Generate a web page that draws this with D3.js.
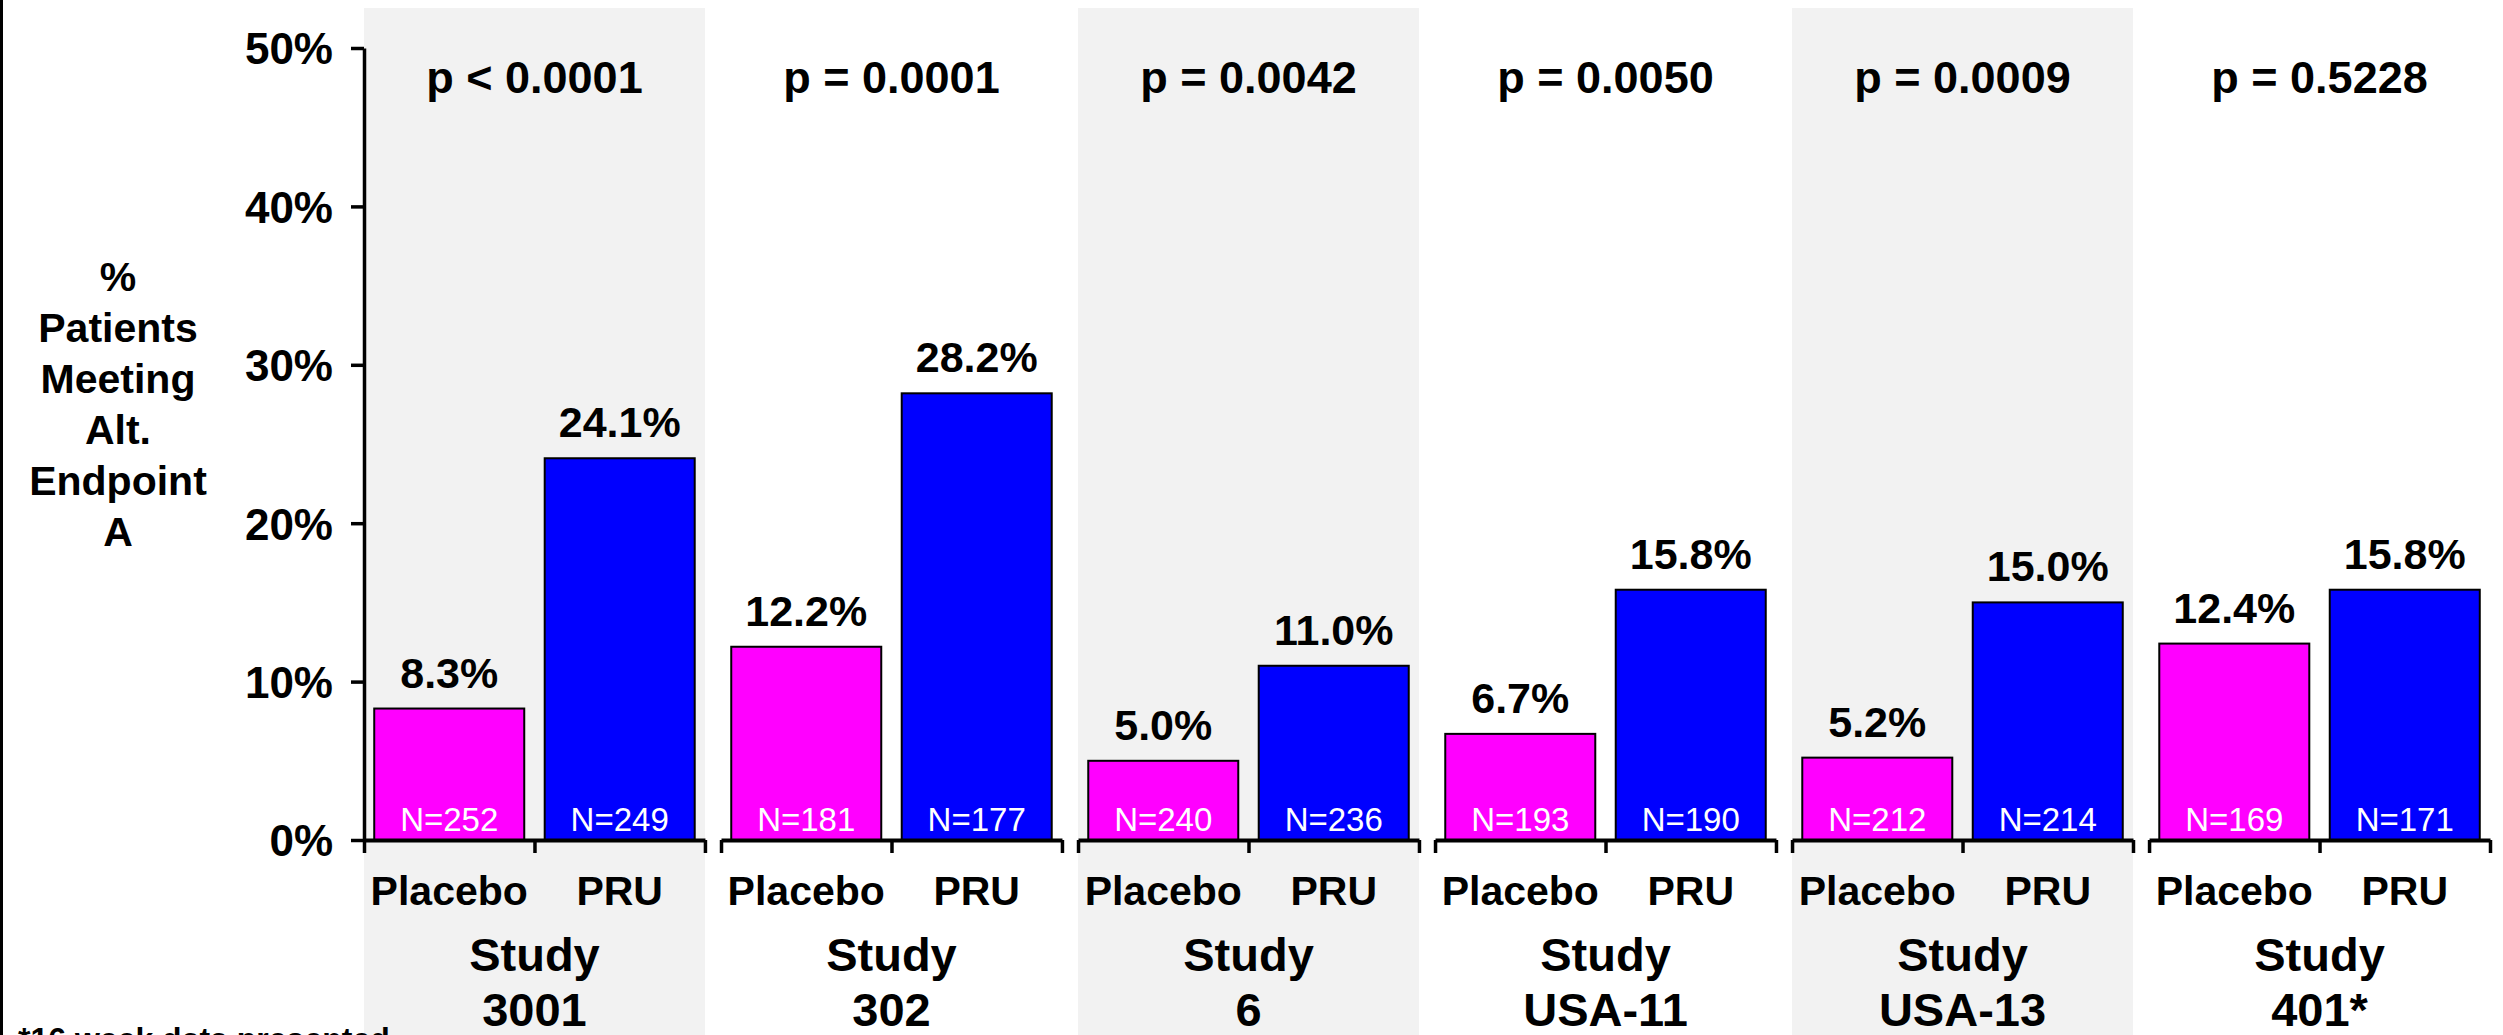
<!DOCTYPE html>
<html>
<head>
<meta charset="utf-8">
<script src="https://cdn.jsdelivr.net/npm/d3@7"></script>
<style>
  html, body { margin: 0; padding: 0; background: #fff; }
  svg { display: block; font-family: "Liberation Sans", Arial, Helvetica, sans-serif; }
</style>
</head>
<body>
<svg id="chart" width="2503" height="1035"></svg>
<script>
// Study groups and arms
const studies = ["3001", "302", "6", "USA-11", "USA-13", "401*"];
const arms = ["Placebo", "PRU"];

// % of patients meeting alternate endpoint A
const placeboPct = [8.3, 12.2, 5.0, 6.7, 5.2, 12.4];
const pruPct = [24.1, 28.2, 11.0, 15.8, 15.0, 15.8];

// Sample sizes
const placeboN = [252, 181, 240, 193, 212, 169];
const pruN = [249, 177, 236, 190, 214, 171];

// p-values per study
const pLabels = ["p < 0.0001", "p = 0.0001", "p = 0.0042", "p = 0.0050", "p = 0.0009", "p = 0.5228"];

// Y axis ticks (percent)
const yTicks = [0, 10, 20, 30, 40, 50];

const yTitleLines = ["%", "Patients", "Meeting", "Alt.", "Endpoint", "A"];
const footnote = "*16 week data presented";

const armColors = { Placebo: "#ff00ff", PRU: "#0000ff" };

const svg = d3.select("#chart");
const W = 2503, H = 1035;

const plotLeft = 364, plotRight = 2490;
const y = d3.scaleLinear().domain([0, 50]).range([840, 48]);

const x0 = d3.scaleBand().domain(studies).range([plotLeft, plotRight])
  .paddingInner(0.045).paddingOuter(0);
const x1 = d3.scaleBand().domain(arms).range([0, x0.bandwidth()])
  .paddingInner(0.12).paddingOuter(0.06);

const rows = studies.map((s, i) => ({
  study: s,
  p: pLabels[i],
  values: [
    { arm: "Placebo", v: placeboPct[i], n: placeboN[i] },
    { arm: "PRU", v: pruPct[i], n: pruN[i] }
  ]
}));

// Alternating shaded bands behind every other study
svg.append("g").selectAll("rect")
  .data(rows.filter((d, i) => i % 2 === 0))
  .join("rect")
  .attr("x", d => x0(d.study))
  .attr("y", 8)
  .attr("width", x0.bandwidth())
  .attr("height", H - 8)
  .attr("fill", "#f2f2f2");

// Left frame edge
svg.append("line")
  .attr("x1", 1.5).attr("x2", 1.5).attr("y1", 0).attr("y2", H)
  .attr("stroke", "#000").attr("stroke-width", 3);

// Y axis
const yAxis = svg.append("g")
  .attr("transform", `translate(${plotLeft},0)`)
  .call(d3.axisLeft(y).tickValues(yTicks).tickFormat(d => d + "%")
    .tickSize(13).tickSizeOuter(0).tickPadding(18));
yAxis.select(".domain").attr("stroke", "#000").attr("stroke-width", 3.5);
yAxis.selectAll(".tick line").attr("stroke", "#000").attr("stroke-width", 3.5);
yAxis.selectAll(".tick text")
  .attr("fill", "#000")
  .attr("font-size", 44)
  .attr("font-weight", "bold")
  .attr("font-family", "'Liberation Sans', Arial, sans-serif")
  .attr("dy", "0.36em");

// Y axis title
svg.append("text")
  .attr("text-anchor", "middle")
  .attr("font-size", 41)
  .attr("font-weight", "bold")
  .selectAll("tspan")
  .data(yTitleLines)
  .join("tspan")
  .attr("x", 118)
  .attr("y", (d, i) => 291 + i * 51)
  .text(d => d);

// Groups
const groups = svg.append("g").selectAll("g")
  .data(rows)
  .join("g")
  .attr("transform", d => `translate(${x0(d.study)},0)`);

// Bars
groups.selectAll("rect.bar")
  .data(d => d.values)
  .join("rect")
  .attr("class", "bar")
  .attr("x", d => x1(d.arm))
  .attr("width", x1.bandwidth())
  .attr("y", d => y(d.v))
  .attr("height", d => y(0) - y(d.v))
  .attr("fill", d => armColors[d.arm])
  .attr("stroke", "#000")
  .attr("stroke-width", 2);

// Value labels
groups.selectAll("text.val")
  .data(d => d.values)
  .join("text")
  .attr("class", "val")
  .attr("x", d => x1(d.arm) + x1.bandwidth() / 2)
  .attr("y", d => y(d.v) - 21)
  .attr("text-anchor", "middle")
  .attr("font-size", 43)
  .attr("font-weight", "bold")
  .text(d => d.v.toFixed(1) + "%");

// N labels inside bars
groups.selectAll("text.n")
  .data(d => d.values)
  .join("text")
  .attr("class", "n")
  .attr("x", d => x1(d.arm) + x1.bandwidth() / 2)
  .attr("y", 831)
  .attr("text-anchor", "middle")
  .attr("font-size", 33)
  .attr("fill", "#fff")
  .text(d => "N=" + d.n);

// X axis segment per study with edge and middle ticks
const seg = d3.scaleLinear().domain([0, 2]).range([0, x0.bandwidth()]);
groups.each(function () {
  const ax = d3.select(this).append("g")
    .attr("transform", `translate(0,${y(0)})`)
    .call(d3.axisBottom(seg).tickValues([0, 1, 2]).tickFormat("")
      .tickSize(13).tickSizeOuter(0));
  ax.select(".domain").attr("stroke", "#000").attr("stroke-width", 4);
  ax.selectAll(".tick line").attr("stroke", "#000").attr("stroke-width", 3.5);
});

// Arm labels
groups.selectAll("text.arm")
  .data(arms)
  .join("text")
  .attr("class", "arm")
  .attr("x", d => x1(d) + x1.bandwidth() / 2)
  .attr("y", 905)
  .attr("text-anchor", "middle")
  .attr("font-size", 41)
  .attr("font-weight", "bold")
  .text(d => d);

// Study labels
groups.append("text")
  .attr("text-anchor", "middle")
  .attr("font-size", 47)
  .attr("font-weight", "bold")
  .selectAll("tspan")
  .data(d => ["Study", d.study])
  .join("tspan")
  .attr("x", x0.bandwidth() / 2)
  .attr("y", (d, i) => 971 + i * 55)
  .text(d => d);

// p-values
groups.append("text")
  .attr("x", x0.bandwidth() / 2)
  .attr("y", 93)
  .attr("text-anchor", "middle")
  .attr("font-size", 45)
  .attr("font-weight", "bold")
  .text(d => d.p);

// Footnote (runs off the bottom edge)
svg.append("text")
  .attr("x", 18)
  .attr("y", 1050)
  .attr("font-size", 32)
  .attr("font-weight", "bold")
  .text(footnote);
</script>
</body>
</html>
